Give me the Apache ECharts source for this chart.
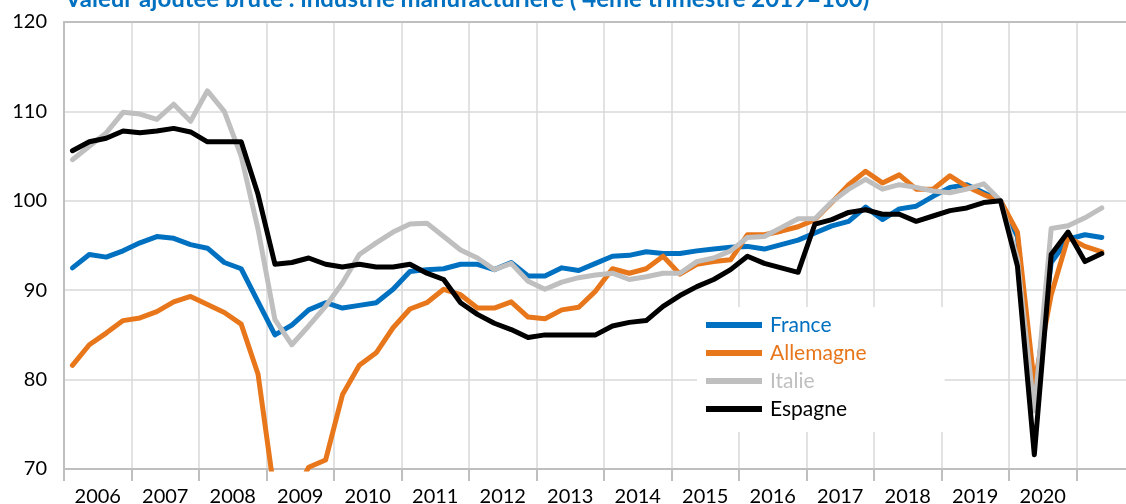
<!DOCTYPE html>
<html>
<head>
<meta charset="utf-8">
<script src="https://cdn.jsdelivr.net/npm/echarts@6/dist/echarts.min.js"></script>
<style>
  html, body { margin: 0; padding: 0; background: #fff; }
  #main { width: 1126px; height: 504px; }
</style>
</head>
<body>
<div id="main"></div>
<script>
// années affichées sous l'axe (2021 n'a pas d'étiquette, coupée à droite)
const years = ['2006', '2007', '2008', '2009', '2010', '2011', '2012', '2013',
  '2014', '2015', '2016', '2017', '2018', '2019', '2020', ''];
const yearNums = [2006, 2007, 2008, 2009, 2010, 2011, 2012, 2013,
  2014, 2015, 2016, 2017, 2018, 2019, 2020, 2021];
const quarters = ['T1', 'T2', 'T3', 'T4'];

// valeur ajoutée brute, 4e trimestre 2019 = 100 (2006T1 -> 2021T2)
const france = [92.5, 94.0, 93.7, 94.4, 95.3, 96.0, 95.8, 95.1, 94.7, 93.1, 92.4, 88.7,
  85.0, 86.1, 87.8, 88.6, 88.0, 88.3, 88.6, 90.1, 92.1, 92.3, 92.4, 92.9,
  92.9, 92.3, 93.1, 91.6, 91.6, 92.5, 92.2, 93.0, 93.8, 93.9, 94.3, 94.1,
  94.1, 94.4, 94.6, 94.8, 94.9, 94.6, 95.1, 95.6, 96.4, 97.2, 97.7, 99.3,
  97.9, 99.1, 99.4, 100.5, 101.5, 101.8, 100.9, 100.0, 96.0, 77.9, 93.1, 95.7,
  96.2, 95.9];
const allemagne = [81.6, 83.9, 85.2, 86.6, 86.9, 87.6, 88.7, 89.3, 88.4, 87.5, 86.2, 80.6,
  66.9, 66.5, 70.2, 71.0, 78.3, 81.6, 83.0, 85.8, 87.9, 88.6, 90.1, 89.5,
  88.0, 88.0, 88.7, 87.0, 86.8, 87.8, 88.1, 89.9, 92.4, 91.9, 92.4, 93.8,
  91.8, 92.9, 93.2, 93.4, 96.2, 96.2, 96.6, 97.1, 97.9, 99.8, 101.8, 103.3,
  102.0, 102.9, 101.3, 101.3, 102.8, 101.6, 100.7, 100.0, 96.5, 79.5, 89.5, 95.9,
  94.9, 94.3];
const italie = [104.6, 106.1, 107.6, 109.9, 109.7, 109.1, 110.8, 108.9, 112.3, 110.0, 105.0, 96.8,
  86.7, 83.9, 86.0, 88.2, 90.8, 94.0, 95.3, 96.5, 97.4, 97.5, 96.0, 94.5,
  93.6, 92.3, 93.0, 91.0, 90.1, 90.9, 91.4, 91.7, 91.9, 91.2, 91.5, 91.9,
  91.9, 93.2, 93.6, 94.4, 95.9, 96.0, 97.0, 98.0, 98.0, 99.9, 101.3, 102.4,
  101.3, 101.8, 101.5, 101.1, 100.9, 101.3, 101.9, 100.0, 93.5, 76.5, 96.9, 97.2,
  98.1, 99.2];
const espagne = [105.6, 106.6, 107.0, 107.8, 107.6, 107.8, 108.1, 107.7, 106.6, 106.6, 106.6, 100.7,
  92.9, 93.1, 93.6, 92.9, 92.6, 92.9, 92.6, 92.6, 92.9, 91.9, 91.2, 88.6,
  87.3, 86.3, 85.6, 84.7, 85.0, 85.0, 85.0, 85.0, 86.0, 86.4, 86.6, 88.2,
  89.4, 90.4, 91.2, 92.3, 93.8, 93.0, 92.5, 92.0, 97.4, 97.9, 98.7, 99.0,
  98.5, 98.5, 97.7, 98.3, 98.9, 99.2, 99.8, 100.0, 92.7, 71.6, 94.0, 96.5,
  93.2, 94.1];

const seriesNames = ['France', 'Allemagne', 'Italie', 'Espagne'];
const seriesColors = ['#0070C0', '#E8761B', '#BFBFBF', '#000000'];
const seriesData = [france, allemagne, italie, espagne];

const quarterCats = [];
yearNums.forEach(y => quarters.forEach(q => quarterCats.push(q + ' ' + y)));

const font = 'Lato, "Liberation Sans", sans-serif';
const gridColor = '#d9d9d9';
const axisColor = '#bfbfbf';

let myChart = echarts.init(document.getElementById('main'));
myChart.setOption({
  animation: false,
  textStyle: { fontFamily: font },
  grid: { left: 64, top: 22, width: 1080, height: 447, outerBoundsMode: 'none', containLabel: false },
  graphic: [{
    type: 'text',
    z: 10,
    style: {
      x: 65,
      y: 11,
      text: 'Valeur ajoutée brute : industrie manufacturière ( 4eme trimestre 2019=100)',
      font: 'bold 24px ' + font,
      fill: '#0070C0',
      textVerticalAlign: 'bottom'
    }
  }],
  legend: {
    orient: 'vertical',
    left: 697,
    top: 307,
    padding: [7, 78, 12, 9],
    backgroundColor: '#fff',
    icon: 'rect',
    itemWidth: 56,
    itemHeight: 6,
    itemGap: 6,
    selectedMode: false,
    textStyle: { fontSize: 21, lineHeight: 22, fontFamily: font, padding: [0, 0, 0, 3] },
    data: seriesNames.map((n, i) => ({ name: n, textStyle: { color: seriesColors[i] } }))
  },
  xAxis: [{
    type: 'category',
    data: years,
    position: 'bottom',
    boundaryGap: true,
    axisLine: { lineStyle: { color: axisColor, width: 2 } },
    axisTick: { show: true, length: 12, interval: 0, lineStyle: { color: axisColor, width: 2 } },
    axisLabel: { interval: 0, fontSize: 20, color: '#000', margin: 18, fontFamily: font },
    splitLine: { show: true, interval: 0, lineStyle: { color: gridColor, width: 1.5 } }
  }, {
    type: 'category',
    data: quarterCats,
    position: 'top',
    boundaryGap: true,
    axisLine: { lineStyle: { color: axisColor, width: 2 } },
    axisTick: { show: false },
    axisLabel: { show: false },
    splitLine: { show: false }
  }],
  yAxis: {
    type: 'value',
    min: 70,
    max: 120,
    interval: 10,
    axisLine: { show: true, lineStyle: { color: axisColor, width: 2 } },
    axisTick: { show: false },
    axisLabel: { fontSize: 20, color: '#000', margin: 17, fontFamily: font },
    splitLine: { show: true, lineStyle: { color: gridColor, width: 1.5 } }
  },
  series: seriesNames.map((n, i) => ({
    name: n,
    type: 'line',
    xAxisIndex: 1,
    data: seriesData[i],
    color: seriesColors[i],
    showSymbol: false,
    symbol: 'none',
    clip: true,
    lineStyle: { width: 5, color: seriesColors[i], cap: 'round', join: 'round' }
  }))
});
</script>
</body>
</html>
